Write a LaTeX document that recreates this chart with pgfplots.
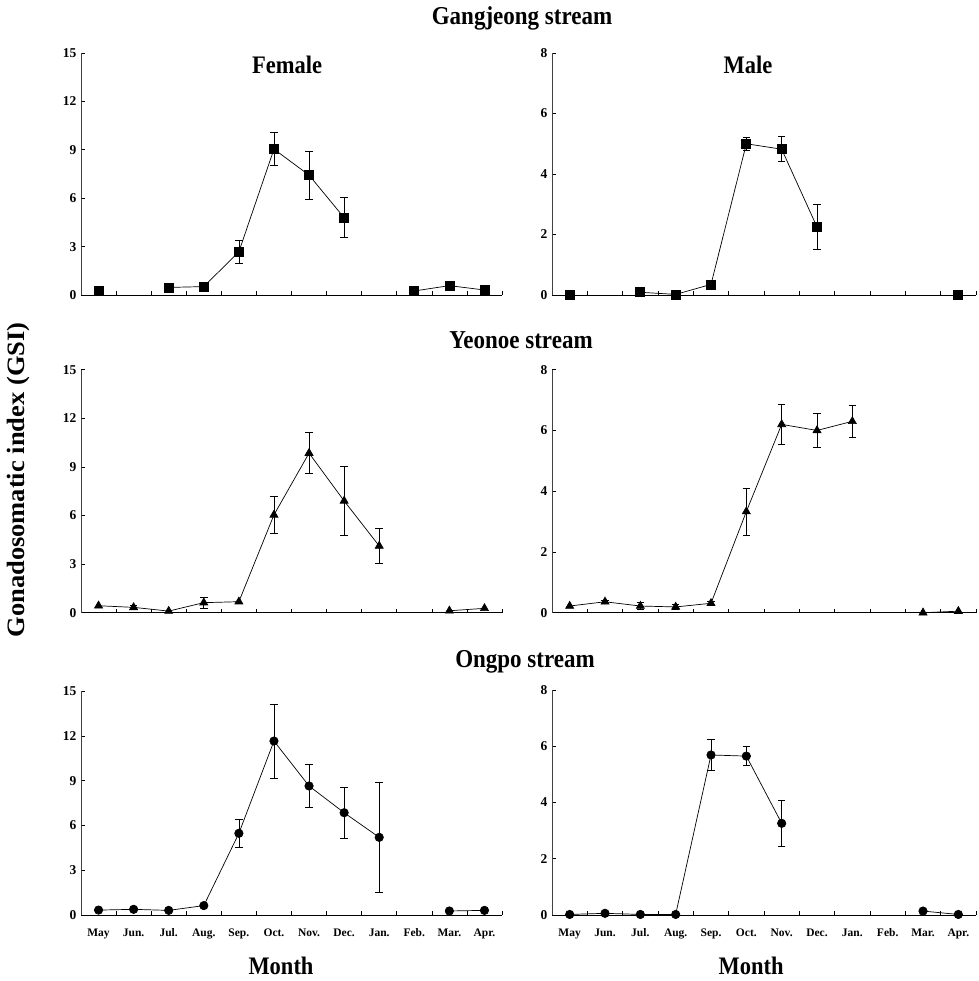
\documentclass[border=0pt]{standalone}
\usepackage{pgfplots}
\pgfplotsset{compat=1.18}
\usepackage{pgfplotstable}
\usepackage{graphicx}
\usepackage{fontspec}
\setmainfont{Liberation Serif}

% Gangjeong female
\pgfplotstableread{
x y
0.5 0.25
1.5 nan
2.5 0.47
3.5 0.52
4.5 2.68
5.5 9.04
6.5 7.43
7.5 4.79
8.5 nan
9.5 0.25
10.5 0.58
11.5 0.31
}\GF
\pgfplotstableread{
x y e
4.5 2.68 0.70
5.5 9.04 1.03
6.5 7.43 1.50
7.5 4.79 1.24
}\GFe
% Gangjeong male
\pgfplotstableread{
x y
0.5 0.00
1.5 nan
2.5 0.09
3.5 0.02
4.5 0.35
5.5 5.00
6.5 4.82
7.5 2.25
8.5 nan
9.5 nan
10.5 nan
11.5 0.02
}\GM
\pgfplotstableread{
x y e
5.5 5.00 0.22
6.5 4.82 0.41
7.5 2.25 0.74
}\GMe
% Yeonoe female
\pgfplotstableread{
x y
0.5 0.43
1.5 0.33
2.5 0.10
3.5 0.62
4.5 0.68
5.5 6.04
6.5 9.85
7.5 6.90
8.5 4.12
9.5 nan
10.5 0.12
11.5 0.27
}\YF
\pgfplotstableread{
x y e
1.5 0.33 0.15
3.5 0.62 0.33
5.5 6.04 1.13
6.5 9.85 1.27
7.5 6.90 2.13
8.5 4.12 1.10
}\YFe
% Yeonoe male
\pgfplotstableread{
x y
0.5 0.22
1.5 0.36
2.5 0.22
3.5 0.19
4.5 0.31
5.5 3.33
6.5 6.20
7.5 6.00
8.5 6.30
9.5 nan
10.5 0.00
11.5 0.05
}\YM
\pgfplotstableread{
x y e
1.5 0.36 0.06
2.5 0.22 0.12
3.5 0.19 0.08
4.5 0.31 0.08
5.5 3.33 0.78
6.5 6.20 0.67
7.5 6.00 0.57
8.5 6.30 0.52
}\YMe
% Ongpo female
\pgfplotstableread{
x y
0.5 0.33
1.5 0.38
2.5 0.31
3.5 0.63
4.5 5.47
5.5 11.65
6.5 8.64
7.5 6.85
8.5 5.20
9.5 nan
10.5 0.27
11.5 0.31
}\OF
\pgfplotstableread{
x y e
4.5 5.47 0.92
5.5 11.65 2.47
6.5 8.64 1.42
7.5 6.85 1.70
8.5 5.20 3.70
}\OFe
% Ongpo male
\pgfplotstableread{
x y
0.5 0.02
1.5 0.06
2.5 0.02
3.5 0.02
4.5 5.69
5.5 5.65
6.5 3.26
7.5 nan
8.5 nan
9.5 nan
10.5 0.14
11.5 0.02
}\OM
\pgfplotstableread{
x y e
4.5 5.69 0.55
5.5 5.65 0.33
6.5 3.26 0.82
}\OMe

\pgfplotsset{
  gsi/.style={
    scale only axis,
    axis x line*=bottom, axis y line*=left,
    y axis line style={black!75},
    xmin=0, xmax=12, ymin=0,
    xtick={1,2,3,4,5,6,7,8,9,10,11,12},
    xticklabels={},
    major tick length=4pt,
    tick align=inside,
    tick style={black, line width=0.6pt},
    ticklabel style={font=\bfseries\fontsize{13.5}{14}\selectfont},
    yticklabel style={xshift=-1pt},
    /pgf/number format/assume math mode=true,
    unbounded coords=jump,
    clip=false,
    axis line style={line width=0.8pt},
  },
  left/.style={gsi, width=421pt, ymax=15, ytick={0,3,6,9,12,15}},
  right/.style={gsi, width=424pt, ymax=8, ytick={0,2,4,6,8}},
  months/.style={
    extra x ticks={0.5,1.5,2.5,3.5,4.5,5.5,6.5,7.5,8.5,9.5,10.5,11.5},
    extra x tick labels={May,Jun.,Jul.,Aug.,Sep.,Oct.,Nov.,Dec.,Jan.,Feb.,Mar.,Apr.},
    extra x tick style={major tick length=0pt, tick style={draw=none},
      ticklabel style={font=\bfseries\fontsize{11.5}{13}\selectfont, yshift=-10pt}},
  },
  ln/.style={black, line width=0.7pt, mark options={solid, fill=black}},
  eb/.style={draw=none, mark=none, error bars/.cd, y dir=both, y explicit,
    error bar style={draw=black, line width=0.7pt},
    error mark options={draw=black, rotate=90, mark size=3.8pt, line width=0.7pt}},
}

\newcommand{\tall}[1]{\scalebox{1}[1.12]{#1}}

\begin{document}
\begin{tikzpicture}[x=1pt,y=1pt]
\useasboundingbox (0,0) rectangle (978,-981);

% Row 1
\begin{axis}[left, height=242pt, at={(81pt,-295pt)}, anchor=south west]
\addplot[eb] table[x=x,y=y,y error=e]{\GFe};
\addplot[ln, mark=square*, mark size=4.5pt] table[x=x,y=y]{\GF};
\end{axis}
\begin{axis}[right, height=242pt, at={(552pt,-295pt)}, anchor=south west]
\addplot[eb] table[x=x,y=y,y error=e]{\GMe};
\addplot[ln, mark=square*, mark size=4.5pt] table[x=x,y=y]{\GM};
\end{axis}

% Row 2
\begin{axis}[left, height=243pt, at={(81pt,-612.7pt)}, anchor=south west]
\addplot[eb] table[x=x,y=y,y error=e]{\YFe};
\addplot[ln, mark=triangle*, mark size=4.6pt] table[x=x,y=y]{\YF};
\end{axis}
\begin{axis}[right, height=243pt, at={(552pt,-612.7pt)}, anchor=south west]
\addplot[eb] table[x=x,y=y,y error=e]{\YMe};
\addplot[ln, mark=triangle*, mark size=4.6pt] table[x=x,y=y]{\YM};
\end{axis}

% Row 3
\begin{axis}[left, months, height=224pt, at={(81pt,-915pt)}, anchor=south west]
\addplot[eb] table[x=x,y=y,y error=e]{\OFe};
\addplot[ln, mark=*, mark size=4.2pt] table[x=x,y=y]{\OF};
\end{axis}
\begin{axis}[right, months, height=225pt, at={(552pt,-915pt)}, anchor=south west]
\addplot[eb] table[x=x,y=y,y error=e]{\OMe};
\addplot[ln, mark=*, mark size=4.2pt] table[x=x,y=y]{\OM};
\end{axis}

% Titles
\node[font=\bfseries\fontsize{23}{26}\selectfont] at (522,-18) {\tall{Gangjeong stream}};
\node[font=\bfseries\fontsize{23}{26}\selectfont] at (521,-340) {\tall{Yeonoe stream}};
\node[font=\bfseries\fontsize{23}{26}\selectfont] at (525,-662) {\tall{Ongpo stream}};
\node[font=\bfseries\fontsize{22.5}{26}\selectfont] at (287,-65) {\tall{Female}};
\node[font=\bfseries\fontsize{22.5}{26}\selectfont] at (748,-65) {\tall{Male}};
\node[font=\bfseries\fontsize{22.5}{26}\selectfont] at (281,-966) {\tall{Month}};
\node[font=\bfseries\fontsize{22.5}{26}\selectfont] at (751,-966) {\tall{Month}};
\node[font=\bfseries\fontsize{25}{28}\selectfont, rotate=90] at (18,-480) {\scalebox{1.06}[1]{Gonadosomatic index (GSI)}};
\end{tikzpicture}
\end{document}
